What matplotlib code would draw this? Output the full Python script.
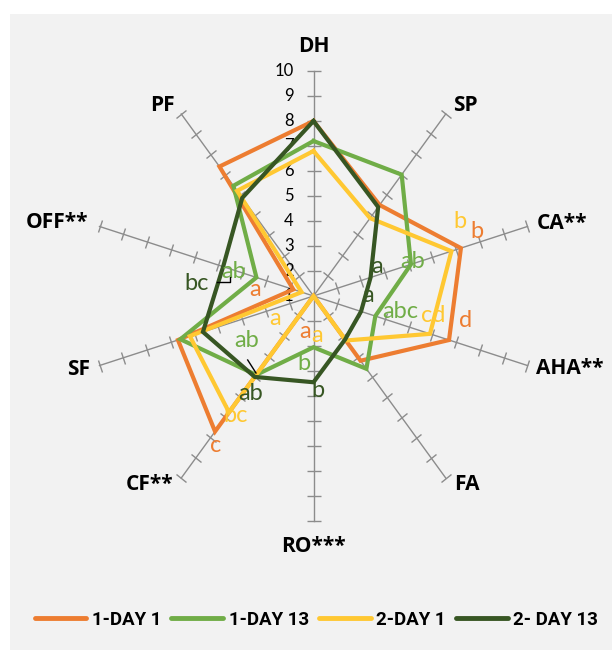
import numpy as np
import matplotlib
matplotlib.use("Agg")
import matplotlib.pyplot as plt
from matplotlib.markers import MarkerStyle
from matplotlib.transforms import Affine2D
from matplotlib.patches import Rectangle
from matplotlib.lines import Line2D

plt.rcParams['font.family'] = ['Lato', 'DejaVu Sans']

categories = ['DH', 'SP', 'CA**', 'AHA**', 'FA', 'RO***', 'CF**', 'SF', 'OFF**', 'PF']
series_names = ['1-DAY 1', '1-DAY 13', '2-DAY 1', '2- DAY 13']
day1_a = [8.0, 5.5, 7.2, 6.7, 4.2, 1.0, 7.7, 6.7, 1.85, 7.4]
day13_a = [7.2, 7.0, 5.1, 3.6, 4.6, 3.05, 4.9, 6.6, 3.4, 6.45]
day1_b = [6.8, 4.85, 6.8, 5.9, 3.2, 1.0, 6.75, 6.2, 1.5, 6.2]
day13_b = [8.0, 5.4, 3.4, 3.0, 3.15, 4.45, 5.0, 5.65, 4.8, 5.85]
colors = ['#ED7D31', '#70AD47', '#FFC832', '#375623']

# significance letters: (text, angle clockwise from top in deg, radius, series idx)
sig_text = ['b', 'b', 'ab', 'a', 'a', 'abc', 'cd', 'd', 'a', 'a', 'b', 'b',
            'c', 'bc', 'ab', 'ab', 'a', 'a', 'ab', 'bc']
sig_angle = [68.5, 63.1, 71.0, 65.2, 89.0, 100.3, 99.0, 99.0, 193.1, 175.0, 187.9, 177.0,
             213.4, 213.3, 213.0, 236.5, 239.8, 275.9, 286.9, 276.2]
sig_r = [8.02, 7.58, 5.21, 3.79, 3.2, 4.52, 5.86, 7.14, 2.47, 2.57, 3.72, 4.77,
         8.14, 6.7, 5.64, 4.19, 2.77, 3.34, 4.34, 5.69]
sig_series = [0, 2, 1, 3, 3, 1, 2, 0, 0, 2, 1, 3,
              0, 2, 3, 1, 2, 0, 1, 3]

W, H = 612, 650
fig = plt.figure(figsize=(W / 100, H / 100), dpi=100)
fig.patch.set_facecolor('white')
fig.add_artist(Rectangle((10 / W, 0), 1 - 10 / W, 1 - 14 / H, transform=fig.transFigure,
                         facecolor='#F2F2F2', edgecolor='none', zorder=0))

cx, cy, R = 313.5, 296, 225
ax = fig.add_axes([(cx - R) / W, (H - cy - R) / H, 2 * R / W, 2 * R / H], projection='polar')
ax.patch.set_alpha(0)
ax.set_theta_zero_location('N')
ax.set_theta_direction(-1)
ax.set_ylim(1, 10)
ax.grid(False)
ax.spines['polar'].set_visible(False)
ax.set_xticks([])
ax.set_yticks([])

n = len(categories)
angles_deg = np.arange(n) * 360 / n
angles = np.deg2rad(angles_deg)

# spokes with cross tick marks
for th, deg in zip(angles, angles_deg):
    ax.plot([th, th], [1, 10], color='#8C8C8C', lw=1.0, zorder=1, clip_on=False)
    mk = MarkerStyle('_', transform=Affine2D().rotate_deg(-deg))
    ax.plot([th] * 9, np.arange(2, 11), ls='none', marker=mk, markersize=9.5,
            mew=1.0, color='#8C8C8C', zorder=1, clip_on=False)

# value labels on the DH axis
for v in range(1, 11):
    ax.annotate(str(v), (0, v), xytext=(-20, 0), textcoords='offset pixels',
                ha='right', va='center', fontsize=12, color='black', annotation_clip=False)

# category labels
label_off = [(0, 24, 'center'), (7, 8, 'left'), (9, 3, 'left'), (9, -3, 'left'),
             (8, -6, 'left'), (0, -25, 'center'), (-8, -6, 'right'), (-9, -4, 'right'),
             (-11, 4, 'right'), (-6, 8, 'right')]
for th, cat, (dx, dy, ha) in zip(angles, categories, label_off):
    ax.annotate(cat, (th, 10), xytext=(dx, dy), textcoords='offset pixels',
                ha=ha, va='center', fontsize=15, fontweight='bold',
                family=['Open Sans', 'DejaVu Sans'], annotation_clip=False)

all_series = [day1_a, day13_a, day1_b, day13_b]
closed = np.append(angles, angles[0])
for i, (vals, name, col) in enumerate(zip(all_series, series_names, colors)):
    ax.plot(closed, vals + vals[:1], color=col, lw=3.0, label=name, zorder=3 + i,
            solid_joinstyle='miter', clip_on=False)

for t, a, r, s in zip(sig_text, sig_angle, sig_r, sig_series):
    ax.text(np.deg2rad(a), r, t, color=colors[s], fontsize=17, ha='center',
            va='center', zorder=10)

# small leader lines
for xs, ys in [([217, 230, 230], [281.5, 281.5, 276.5]), ([247.7, 256], [360, 373])]:
    fig.add_artist(Line2D([x / W for x in xs], [1 - y / H for y in ys],
                          color='black', lw=1.0, transform=fig.transFigure, zorder=20))

handles = [Line2D([], [], color=c, lw=3.5, solid_capstyle='round') for c in colors]
fig.legend(handles, series_names, loc='center', bbox_to_anchor=(0.517, 1 - 620 / H),
           ncol=4, frameon=False, handlelength=2.75, handletextpad=0.3, columnspacing=0.55,
           prop={'family': ['Roboto', 'DejaVu Sans'], 'weight': 'bold', 'size': 13.5})

fig.savefig('out.png', dpi=100)
